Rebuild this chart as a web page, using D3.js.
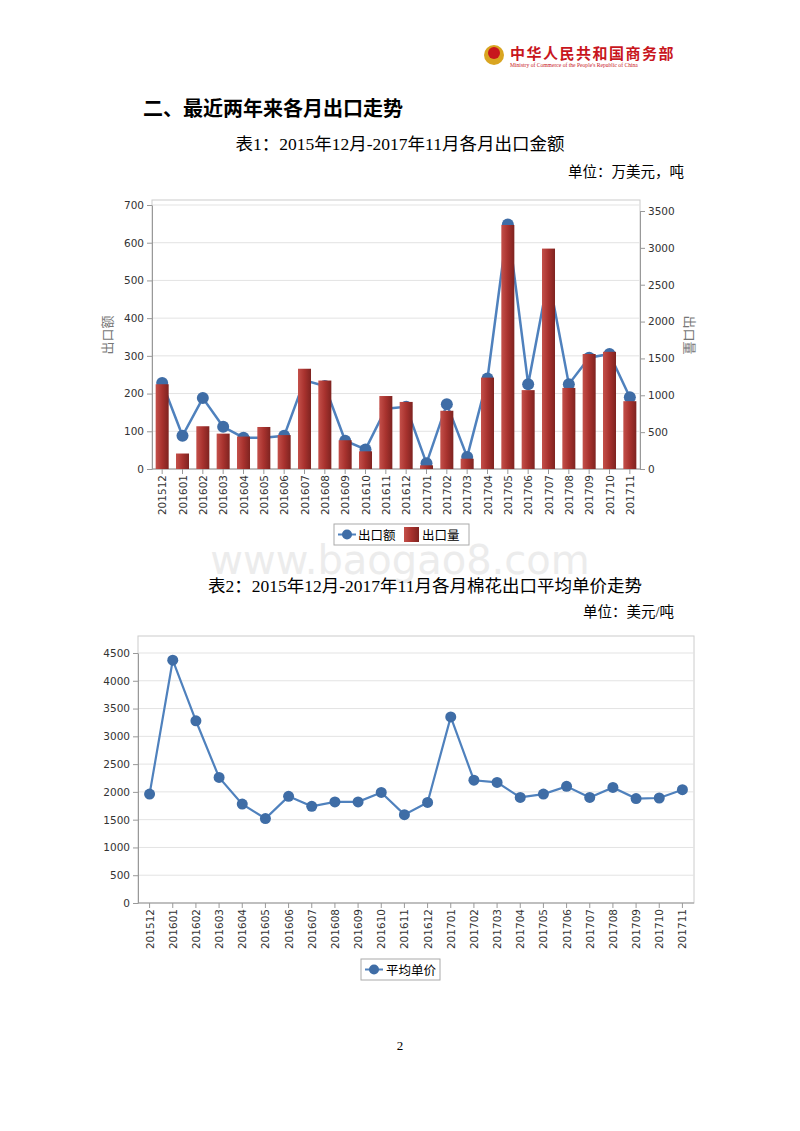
<!DOCTYPE html>
<html><head><meta charset="utf-8">
<script src="https://cdn.jsdelivr.net/npm/d3@7"></script>
<style>body{margin:0;background:#fff}svg{display:block}</style>
</head><body>
<script>
const months=["201512","201601","201602","201603","201604","201605","201606","201607","201608","201609","201610","201611","201612","201701","201702","201703","201704","201705","201706","201707","201708","201709","201710","201711"];
const exportValue=[228,88,188,112,83,83,88,235,220,75,52,160,165,15,172,32,240,648,225,510,225,295,305,190];
const exportQty=[1150,210,580,480,440,570,460,1360,1200,390,240,990,910,50,790,140,1240,3310,1070,2990,1100,1560,1590,920];
const avgPrice=[1960,4370,3280,2260,1780,1520,1920,1740,1820,1820,1990,1590,1810,3350,2210,2170,1900,1960,2100,1900,2080,1880,1890,2040];
const leftTicks=[0,100,200,300,400,500,600,700];
const rightTicks=[0,500,1000,1500,2000,2500,3000,3500];
const priceTicks=[0,500,1000,1500,2000,2500,3000,3500,4000,4500];

const svg=d3.select("body").append("svg").attr("width",800).attr("height",1131);
const serif="'Liberation Serif','Noto Sans CJK SC',serif";
const sans="'DejaVu Sans','Noto Sans CJK SC',sans-serif";
const cjk="'Noto Sans CJK SC',sans-serif";
const fmt=d3.format("d");

svg.append("circle").attr("cx",494).attr("cy",55).attr("r",10).attr("fill","#d9a521");
svg.append("circle").attr("cx",494).attr("cy",53).attr("r",6).attr("fill","#c8161d");
svg.append("text").attr("x",510).attr("y",59).attr("font-family",cjk).attr("font-weight","bold").attr("font-size",15).attr("fill","#c8161d").attr("letter-spacing",1.5).text("中华人民共和国商务部");
svg.append("text").attr("x",510).attr("y",67).attr("font-family",serif).attr("font-size",5.6).attr("fill","#c8161d").text("Ministry of Commerce of the People's Republic of China");

svg.append("text").attr("x",143).attr("y",116).attr("font-family",cjk).attr("font-weight","bold").attr("font-size",20).attr("fill","#000").text("二、最近两年来各月出口走势");
svg.append("text").attr("x",400).attr("y",150).attr("text-anchor","middle").attr("font-family",serif).attr("font-size",17.5).text("表1：2015年12月-2017年11月各月出口金额");
svg.append("text").attr("x",684).attr("y",177).attr("text-anchor","end").attr("font-family",serif).attr("font-size",14.5).text("单位：万美元，吨");

svg.append("text").attr("x",400).attr("y",574).attr("text-anchor","middle").attr("font-family","'DejaVu Sans',sans-serif").attr("font-size",40).attr("fill","#ececec").text("www.baogao8.com");

function styleAxis(a){a.select(".domain").attr("stroke","#999");a.selectAll("line").attr("stroke","#999");a.selectAll("text").attr("font-family",sans).attr("font-size",10.5).attr("fill","#333");}
function xAxisLabels(g,x,y0){
  months.forEach(m=>{
    const cx=x(m)+x.bandwidth()/2;
    g.append("text").attr("transform",`translate(${cx+4},${y0+6}) rotate(-90)`).attr("text-anchor","end")
      .attr("font-family",sans).attr("font-size",10.5).attr("fill","#333").text(m);
  });
}

{
 const L=152,R=640,T=200,B=469;
 const g=svg.append("g");
 g.append("rect").attr("x",L).attr("y",T).attr("width",R-L).attr("height",B-T).attr("fill","none").attr("stroke","#ccc");
 const x=d3.scaleBand().domain(months).range([L,R]).paddingInner(0.36).paddingOuter(0.18);
 const yL=d3.scaleLinear().domain([0,700]).range([B,205]);
 const yR=d3.scaleLinear().domain([0,3500]).range([B,211]);
 leftTicks.forEach(t=>{ if(t>0) g.append("line").attr("x1",L).attr("x2",R).attr("y1",yL(t)).attr("y2",yL(t)).attr("stroke","#e3e3e3");});
 g.append("g").attr("transform",`translate(${L},0)`).call(d3.axisLeft(yL).tickValues(leftTicks).tickFormat(fmt).tickSize(5).tickSizeOuter(0)).call(styleAxis);
 g.append("g").attr("transform",`translate(${R},0)`).call(d3.axisRight(yR).tickValues(rightTicks).tickFormat(fmt).tickSize(5).tickSizeOuter(0)).call(styleAxis);
 g.append("line").attr("x1",L).attr("x2",R).attr("y1",B).attr("y2",B).attr("stroke","#999");
 months.forEach(m=>g.append("line").attr("x1",x(m)+x.bandwidth()/2).attr("x2",x(m)+x.bandwidth()/2).attr("y1",B).attr("y2",B+5).attr("stroke","#999"));
 const grad=svg.append("defs").append("linearGradient").attr("id","barg");
 grad.append("stop").attr("offset","0").attr("stop-color","#c4504a");
 grad.append("stop").attr("offset","0.5").attr("stop-color","#a8322e");
 grad.append("stop").attr("offset","1").attr("stop-color","#7e2320");
 const line=d3.line().x((d,i)=>x(months[i])+x.bandwidth()/2).y(d=>yL(d));
 g.append("path").attr("d",line(exportValue)).attr("fill","none").attr("stroke","#4f81bd").attr("stroke-width",2.5);
 g.append("g").selectAll("circle").data(exportValue).join("circle").attr("cx",(d,i)=>x(months[i])+x.bandwidth()/2).attr("cy",d=>yL(d)).attr("r",6).attr("fill","#3f6da6");
 g.append("g").selectAll("rect").data(exportQty).join("rect").attr("x",(d,i)=>x(months[i])).attr("width",x.bandwidth())
  .attr("y",d=>yR(d)).attr("height",d=>B-yR(d)).attr("fill","url(#barg)");
 xAxisLabels(g,x,B);
 g.append("text").attr("transform",`translate(112,335) rotate(-90)`).attr("text-anchor","middle").attr("font-family",cjk).attr("font-size",13).attr("fill","#777").text("出口额");
 g.append("text").attr("transform",`translate(685,335) rotate(90)`).attr("text-anchor","middle").attr("font-family",cjk).attr("font-size",13).attr("fill","#777").text("出口量");
 const lg=g.append("g").attr("transform","translate(334,524)");
 lg.append("rect").attr("width",135).attr("height",21).attr("fill","#fff").attr("stroke","#aaa");
 lg.append("line").attr("x1",4).attr("x2",22).attr("y1",10.5).attr("y2",10.5).attr("stroke","#4f81bd").attr("stroke-width",2);
 lg.append("circle").attr("cx",13).attr("cy",10.5).attr("r",5).attr("fill","#3f6da6");
 lg.append("text").attr("x",24).attr("y",15.5).attr("font-family",cjk).attr("font-size",12.5).text("出口额");
 lg.append("rect").attr("x",70).attr("y",3).attr("width",15).attr("height",15).attr("fill","url(#barg)");
 lg.append("text").attr("x",88).attr("y",15.5).attr("font-family",cjk).attr("font-size",12.5).text("出口量");
}

svg.append("text").attr("x",425).attr("y",592).attr("text-anchor","middle").attr("font-family",serif).attr("font-size",17.5).text("表2：2015年12月-2017年11月各月棉花出口平均单价走势");
svg.append("text").attr("x",674).attr("y",617).attr("text-anchor","end").attr("font-family",serif).attr("font-size",14.5).text("单位：美元/吨");

{
 const L=138,R=694,T=636,B=903;
 const g=svg.append("g");
 g.append("rect").attr("x",L).attr("y",T).attr("width",R-L).attr("height",B-T).attr("fill","none").attr("stroke","#ccc");
 const x=d3.scaleBand().domain(months).range([L,R]).padding(0);
 const y=d3.scaleLinear().domain([0,4500]).range([B,653]);
 priceTicks.forEach(t=>{ if(t>0) g.append("line").attr("x1",L).attr("x2",R).attr("y1",y(t)).attr("y2",y(t)).attr("stroke","#e3e3e3");});
 g.append("g").attr("transform",`translate(${L},0)`).call(d3.axisLeft(y).tickValues(priceTicks).tickFormat(fmt).tickSize(5).tickSizeOuter(0)).call(styleAxis);
 g.append("line").attr("x1",L).attr("x2",R).attr("y1",B).attr("y2",B).attr("stroke","#999");
 months.forEach(m=>g.append("line").attr("x1",x(m)+x.bandwidth()/2).attr("x2",x(m)+x.bandwidth()/2).attr("y1",B).attr("y2",B+5).attr("stroke","#999"));
 const line=d3.line().x((d,i)=>x(months[i])+x.bandwidth()/2).y(d=>y(d));
 g.append("path").attr("d",line(avgPrice)).attr("fill","none").attr("stroke","#4f81bd").attr("stroke-width",2.2);
 g.selectAll("circle").data(avgPrice).join("circle").attr("cx",(d,i)=>x(months[i])+x.bandwidth()/2).attr("cy",d=>y(d)).attr("r",5.5).attr("fill","#3f6da6");
 xAxisLabels(g,x,B);
 const lg=g.append("g").attr("transform","translate(361,959)");
 lg.append("rect").attr("width",79).attr("height",21).attr("fill","#fff").attr("stroke","#aaa");
 lg.append("line").attr("x1",4).attr("x2",22).attr("y1",10.5).attr("y2",10.5).attr("stroke","#4f81bd").attr("stroke-width",2);
 lg.append("circle").attr("cx",13).attr("cy",10.5).attr("r",5).attr("fill","#3f6da6");
 lg.append("text").attr("x",25).attr("y",15.5).attr("font-family",cjk).attr("font-size",12.5).text("平均单价");
}
svg.append("text").attr("x",400).attr("y",1050).attr("text-anchor","middle").attr("font-family",serif).attr("font-size",13).text("2");
</script>
</body></html>
